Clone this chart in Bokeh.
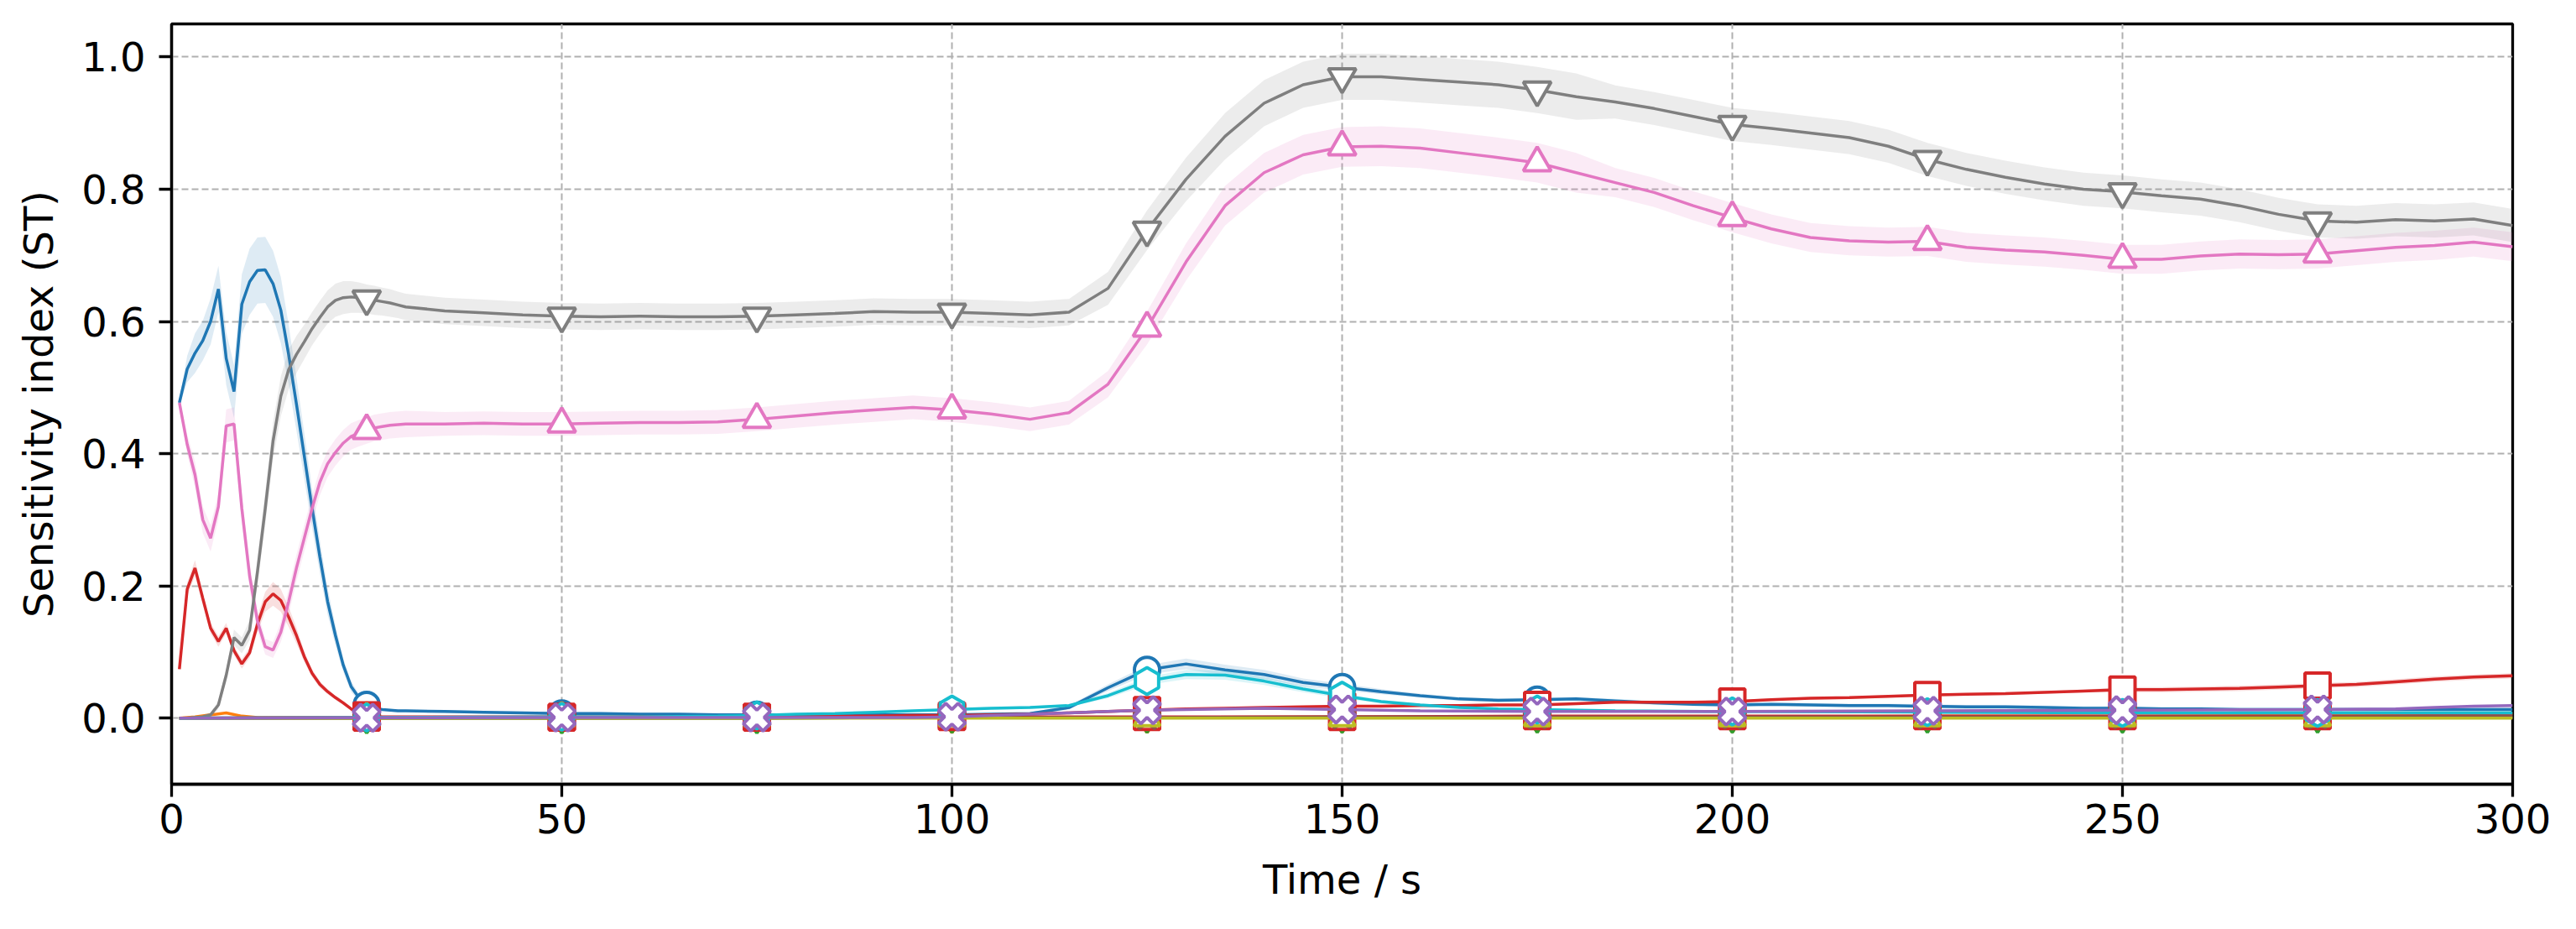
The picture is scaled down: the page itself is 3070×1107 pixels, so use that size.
import numpy as np
from bokeh.plotting import figure
from bokeh.models import Range1d, FixedTicker, PrintfTickFormatter
from bokeh.embed import file_html
from bokeh.resources import INLINE

# ---------------- data ----------------
T_EARLY = list(range(1, 31))
T_LATE = list(range(35, 301, 5))
T_MAIN = T_EARLY + T_LATE

X_TICKS = [0, 50, 100, 150, 200, 250, 300]
Y_TICKS = [0.0, 0.2, 0.4, 0.6, 0.8, 1.0]

blue_early = [0.477, 0.528, 0.552, 0.571, 0.600, 0.649, 0.544, 0.494, 0.626, 0.660,
              0.677, 0.678, 0.657, 0.617, 0.550, 0.475, 0.397, 0.318, 0.244, 0.176,
              0.125, 0.080, 0.048, 0.031, 0.020, 0.015, 0.013, 0.012, 0.011, 0.011]
blue_late = [0.010, 0.009, 0.008, 0.007, 0.007, 0.006, 0.006, 0.005, 0.005, 0.005,
             0.005, 0.005, 0.005, 0.005, 0.006, 0.007, 0.016, 0.046, 0.073, 0.082,
             0.073, 0.066, 0.054, 0.047, 0.040, 0.034, 0.029, 0.027, 0.028, 0.029,
             0.026, 0.023, 0.021, 0.020, 0.021, 0.020, 0.019, 0.019, 0.018, 0.017,
             0.017, 0.016, 0.015, 0.015, 0.014, 0.014, 0.013, 0.013, 0.013, 0.013,
             0.013, 0.013, 0.013, 0.013]
blue_hw_early = [0.005, 0.020, 0.030, 0.030, 0.035, 0.035, 0.040, 0.040, 0.045, 0.050,
                 0.050, 0.050, 0.050, 0.050, 0.045, 0.040, 0.035, 0.030, 0.025, 0.020,
                 0.015, 0.010, 0.008, 0.005, 0.003, 0.003, 0.002, 0.002, 0.002, 0.002]
blue_hw_late = [0.002, 0.002, 0.002, 0.002, 0.002, 0.002, 0.002, 0.002, 0.002, 0.002,
                0.002, 0.002, 0.002, 0.002, 0.002, 0.002, 0.003, 0.005, 0.007, 0.008,
                0.008, 0.007, 0.006, 0.005, 0.004, 0.003, 0.003, 0.003, 0.003, 0.003,
                0.003, 0.003, 0.003, 0.003, 0.003, 0.003, 0.003, 0.003, 0.003, 0.003,
                0.003, 0.003, 0.003, 0.003, 0.003, 0.003, 0.003, 0.003, 0.003, 0.003,
                0.003, 0.003, 0.003, 0.003]

pink_early = [0.477, 0.414, 0.368, 0.300, 0.272, 0.320, 0.442, 0.445, 0.317, 0.215,
              0.147, 0.108, 0.103, 0.130, 0.176, 0.227, 0.272, 0.317, 0.357, 0.385,
              0.402, 0.416, 0.426, 0.431, 0.435, 0.439, 0.441, 0.443, 0.444, 0.445]
pink_late = [0.445, 0.446, 0.445, 0.445, 0.446, 0.447, 0.447, 0.448, 0.452, 0.457,
             0.462, 0.466, 0.470, 0.466, 0.460, 0.452, 0.462, 0.505, 0.590, 0.690,
             0.775, 0.825, 0.852, 0.864, 0.865, 0.862, 0.855, 0.848, 0.840, 0.825,
             0.810, 0.795, 0.775, 0.757, 0.740, 0.727, 0.722, 0.720, 0.721, 0.712,
             0.708, 0.705, 0.700, 0.694, 0.694, 0.699, 0.702, 0.701, 0.702, 0.707,
             0.712, 0.715, 0.720, 0.713]
pink_hw_early = [0.005, 0.015, 0.020, 0.020, 0.020, 0.020, 0.025, 0.025, 0.020, 0.020,
                 0.015, 0.012, 0.012, 0.015, 0.020, 0.020, 0.020, 0.020, 0.020, 0.020,
                 0.020, 0.020, 0.020, 0.020, 0.020, 0.020, 0.020, 0.020, 0.020, 0.020]
pink_hw_late = [0.018, 0.018, 0.018, 0.018, 0.018, 0.018, 0.018, 0.018, 0.018, 0.018,
                0.018, 0.018, 0.018, 0.018, 0.018, 0.018, 0.018, 0.020, 0.025, 0.028,
                0.030, 0.030, 0.030, 0.030, 0.030, 0.030, 0.030, 0.030, 0.030, 0.030,
                0.022, 0.022, 0.022, 0.022, 0.022, 0.022, 0.022, 0.022, 0.022, 0.022,
                0.022, 0.022, 0.022, 0.022, 0.022, 0.022, 0.022, 0.022, 0.022, 0.022,
                0.022, 0.022, 0.022, 0.022]

gray_early = [0.000, 0.000, 0.001, 0.002, 0.005, 0.020, 0.065, 0.122, 0.110, 0.133,
              0.221, 0.317, 0.419, 0.487, 0.527, 0.550, 0.569, 0.589, 0.606, 0.622,
              0.632, 0.636, 0.637, 0.636, 0.634, 0.632, 0.630, 0.628, 0.625, 0.622]
gray_late = [0.616, 0.613, 0.610, 0.608, 0.607, 0.608, 0.607, 0.607, 0.608, 0.610,
             0.612, 0.615, 0.614, 0.614, 0.612, 0.610, 0.614, 0.650, 0.738, 0.815,
             0.880, 0.930, 0.958, 0.970, 0.970, 0.966, 0.962, 0.958, 0.950, 0.940,
             0.932, 0.922, 0.910, 0.898, 0.892, 0.885, 0.878, 0.865, 0.845, 0.830,
             0.818, 0.808, 0.800, 0.796, 0.790, 0.785, 0.775, 0.762, 0.752, 0.750,
             0.754, 0.752, 0.755, 0.745]
gray_hw_early = [0.002, 0.002, 0.002, 0.003, 0.004, 0.006, 0.010, 0.012, 0.012, 0.015,
                 0.020, 0.025, 0.028, 0.030, 0.030, 0.028, 0.026, 0.025, 0.025, 0.025,
                 0.025, 0.025, 0.024, 0.023, 0.022, 0.022, 0.021, 0.021, 0.020, 0.020]
gray_hw_late = [0.020, 0.020, 0.020, 0.020, 0.020, 0.020, 0.020, 0.020, 0.020, 0.020,
                0.020, 0.020, 0.020, 0.020, 0.020, 0.020, 0.020, 0.025, 0.030, 0.033,
                0.035, 0.035, 0.035, 0.035, 0.035, 0.035, 0.035, 0.035, 0.035, 0.035,
                0.025, 0.025, 0.025, 0.025, 0.025, 0.025, 0.025, 0.025, 0.025, 0.025,
                0.025, 0.025, 0.025, 0.025, 0.025, 0.025, 0.025, 0.025, 0.025, 0.025,
                0.025, 0.025, 0.025, 0.025]

red_early = [0.074, 0.195, 0.227, 0.181, 0.136, 0.116, 0.136, 0.102, 0.082, 0.099,
             0.142, 0.176, 0.188, 0.178, 0.153, 0.125, 0.093, 0.068, 0.051, 0.040,
             0.031, 0.023, 0.014, 0.007, 0.004, 0.003, 0.002, 0.002, 0.002, 0.002]
red_late = [0.002, 0.002, 0.002, 0.002, 0.002, 0.002, 0.002, 0.002, 0.002, 0.002,
            0.003, 0.003, 0.004, 0.004, 0.005, 0.006, 0.008, 0.010, 0.012, 0.014,
            0.015, 0.016, 0.017, 0.018, 0.018, 0.019, 0.019, 0.020, 0.020, 0.022,
            0.024, 0.024, 0.024, 0.025, 0.028, 0.030, 0.031, 0.033, 0.035, 0.036,
            0.037, 0.039, 0.041, 0.043, 0.043, 0.044, 0.045, 0.047, 0.049, 0.051,
            0.055, 0.059, 0.062, 0.064]
red_hw_early = [0.003, 0.010, 0.012, 0.010, 0.008, 0.008, 0.008, 0.007, 0.007, 0.008,
                0.012, 0.015, 0.018, 0.017, 0.015, 0.012, 0.008, 0.006, 0.005, 0.004,
                0.003, 0.003, 0.002, 0.002, 0.002, 0.002, 0.002, 0.002, 0.002, 0.002]
red_hw_late = [0.002, 0.002, 0.002, 0.002, 0.002, 0.002, 0.002, 0.002, 0.002, 0.002,
               0.002, 0.002, 0.002, 0.002, 0.002, 0.002, 0.002, 0.002, 0.002, 0.002,
               0.002, 0.002, 0.002, 0.002, 0.002, 0.002, 0.002, 0.002, 0.002, 0.002,
               0.002, 0.002, 0.002, 0.002, 0.002, 0.002, 0.002, 0.002, 0.002, 0.002,
               0.002, 0.002, 0.002, 0.004, 0.004, 0.004, 0.004, 0.004, 0.004, 0.004,
               0.004, 0.004, 0.004, 0.004]

T_CYAN = [1, 25, 50, 60, 70, 75, 80, 85, 90, 95, 100, 105, 110, 115, 120, 125, 130, 135,
          140, 145, 150, 155, 160, 165, 170, 175, 185, 200, 225, 250, 275, 300]
cyan_vals = [0.000, 0.001, 0.002, 0.002, 0.003, 0.004, 0.006, 0.007, 0.009, 0.011, 0.013,
             0.015, 0.016, 0.019, 0.034, 0.056, 0.066, 0.065, 0.056, 0.044, 0.034, 0.025,
             0.020, 0.016, 0.014, 0.013, 0.011, 0.010, 0.009, 0.008, 0.008, 0.008]
cyan_hw = [0.000, 0.001, 0.001, 0.001, 0.001, 0.001, 0.001, 0.001, 0.001, 0.001, 0.002,
           0.002, 0.002, 0.002, 0.004, 0.006, 0.007, 0.007, 0.006, 0.005, 0.004, 0.003,
           0.002, 0.002, 0.002, 0.002, 0.002, 0.002, 0.002, 0.002, 0.002, 0.002]

T_PURPLE = [1, 25, 50, 75, 95, 100, 105, 110, 115, 120, 125, 130, 135, 140, 145, 150,
            160, 175, 200, 225, 250, 275, 285, 290, 295, 300]
purple_vals = [0.000, 0.0005, 0.001, 0.001, 0.001, 0.002, 0.004, 0.006, 0.008, 0.010,
               0.012, 0.013, 0.014, 0.015, 0.014, 0.013, 0.011, 0.010, 0.010, 0.011,
               0.012, 0.013, 0.014, 0.016, 0.018, 0.019]

T_ORANGE = [1, 3, 5, 7, 9, 11, 15, 25, 50, 75, 100, 125, 150, 175, 200, 225, 250, 275, 290, 300]
orange_vals = [0.000, 0.002, 0.005, 0.008, 0.003, 0.001, 0.001, 0.001, 0.001, 0.001, 0.001,
               0.001, 0.002, 0.002, 0.002, 0.003, 0.003, 0.004, 0.006, 0.007]

T_LOW = [1, 25, 50, 75, 100, 125, 150, 175, 200, 225, 250, 275, 300]
green_vals = [0.000, 0.000, 0.000, 0.000, 0.001, 0.001, 0.001, 0.001, 0.001, 0.001, 0.001, 0.001, 0.002]
brown_vals = [0.000, 0.000, 0.000, 0.000, 0.001, 0.001, 0.002, 0.002, 0.002, 0.002, 0.002, 0.002, 0.003]
olive_vals = [0.000, 0.000, 0.000, 0.000, 0.000, 0.000, 0.000, 0.000, 0.000, 0.000, 0.000, 0.000, 0.000]
red2_vals = [0.000, 0.001, 0.001, 0.001, 0.002, 0.002, 0.002, 0.003, 0.003, 0.003, 0.003, 0.003, 0.004]

# (color, marker, angle, size, t, values, halfwidth)
SERIES = [
    ("#1f77b4", "circle", 0.0, 30, T_MAIN, blue_early + blue_late, blue_hw_early + blue_hw_late),
    ("#ff7f0e", "diamond", 0.0, 36, T_ORANGE, orange_vals, None),
    ("#2ca02c", "inverted_triangle", 0.0, 31, T_LOW, green_vals, None),
    ("#d62728", "square", 0.0, 30, T_MAIN, red_early + red_late, red_hw_early + red_hw_late),
    ("#d62728", "square", 0.0, 30, T_LOW, red2_vals, None),
    ("#8c564b", "star", 0.0, 34, T_LOW, brown_vals, None),
    ("#e377c2", "triangle", 0.0, 33, T_MAIN, pink_early + pink_late, pink_hw_early + pink_hw_late),
    ("#7f7f7f", "inverted_triangle", 0.0, 33, T_MAIN, gray_early + gray_late, gray_hw_early + gray_hw_late),
    ("#bcbd22", "triangle", 0.0, 31, T_LOW, olive_vals, None),
    ("#17becf", "hex", np.pi / 2, 32, T_CYAN, cyan_vals, cyan_hw),
    ("#9467bd", "plus", np.pi / 4, 33, T_PURPLE, purple_vals, None),
]

# ---------------- figure ----------------
p = figure(width=3054, height=1091, output_backend="svg", toolbar_location=None,
           x_range=Range1d(0, 300), y_range=Range1d(-0.1, 1.05),
           min_border_left=204, min_border_right=60, min_border_top=28, min_border_bottom=157)
p.background_fill_color = "white"
p.border_fill_color = "white"
p.outline_line_color = "black"
p.outline_line_width = 3.3

for color, marker, angle, size, t, vals, hw in SERIES:
    t = np.asarray(t, dtype=float)
    v = np.asarray(vals, dtype=float)
    if hw is not None:
        h = np.asarray(hw, dtype=float)
        p.varea(x=t, y1=v - h, y2=v + h, fill_color=color, fill_alpha=0.15)
    p.line(x=t, y=v, line_color=color, line_width=3.5)
    m = (t % 25 == 0) & (t >= 25) & (t < 300)
    p.scatter(x=t[m], y=v[m], marker=marker, size=size, angle=angle,
              fill_color="white", line_color=color, line_width=4)

p.xaxis.ticker = FixedTicker(ticks=X_TICKS)
p.yaxis.ticker = FixedTicker(ticks=Y_TICKS)
p.yaxis.formatter = PrintfTickFormatter(format="%.1f")
p.xaxis.axis_label = "Time / s"
p.yaxis.axis_label = "Sensitivity index (ST)"

for ax in (p.xaxis[0], p.yaxis[0]):
    ax.axis_line_color = "black"
    ax.axis_line_width = 3.3
    ax.major_tick_line_color = "black"
    ax.major_tick_line_width = 3.3
    ax.major_tick_out = 15
    ax.major_tick_in = 0
    ax.minor_tick_out = 0
    ax.minor_tick_in = 0
    ax.major_label_text_font = "DejaVu Sans"
    ax.major_label_text_font_size = "48px"
    ax.major_label_text_color = "black"
    ax.axis_label_text_font = "DejaVu Sans"
    ax.axis_label_text_font_size = "48px"
    ax.axis_label_text_font_style = "normal"
    ax.axis_label_text_color = "black"

p.xaxis.major_label_standoff = 8
p.yaxis.major_label_standoff = 16
p.xaxis.axis_label_standoff = 24
p.yaxis.axis_label_standoff = 20

for g in (p.xgrid[0], p.ygrid[0]):
    g.grid_line_color = "#b0b0b0"
    g.grid_line_width = 2
    g.grid_line_dash = "8 4"

open("out.html", "w").write(file_html(p, INLINE))
